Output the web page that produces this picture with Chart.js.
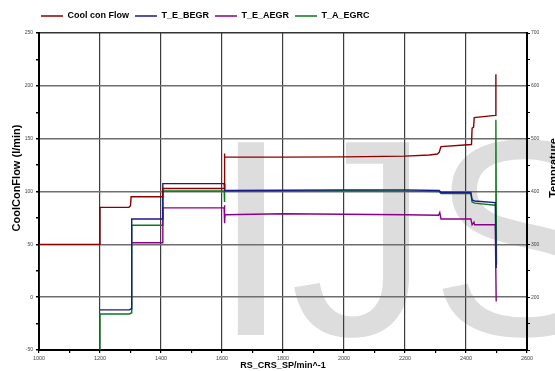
<!DOCTYPE html>
<html>
<head>
<meta charset="utf-8">
<script src="https://cdn.jsdelivr.net/npm/chart.js@4.4.0/dist/chart.umd.min.js"></script>
<style>
    html, body { margin: 0; padding: 0; background: #fff; overflow: hidden; }
    #wrap { position: relative; width: 555px; height: 371px; }
</style>
</head>
<body>
<div id="wrap"><canvas id="chart"></canvas></div>
<script>
// series labels
const seriesNames = ['Cool con Flow', 'T_E_BEGR', 'T_E_AEGR', 'T_A_EGRC'];
const seriesColors = ['#8b0000', '#1a1a8c', '#8b008b', '#0b7a1e'];

// Cool con Flow (l/min, left axis)
const flowRpm = [1000, 1000, 1200, 1200, 1295, 1300, 1302, 1404, 1406, 1607, 1608, 1609, 1800, 2000, 2200, 2280, 2306, 2312, 2318, 2418, 2420, 2425, 2427, 2496, 2498];
const flowVal = [0, 50, 50, 85, 85, 86.5, 95, 95, 102.8, 102.8, 136, 132.7, 132.5, 132.8, 133.5, 134.5, 135.5, 137, 142.5, 144.5, 160, 161, 170, 172, 211];

// T_E_BEGR (temperature, right axis)
const begrRpm = [1200, 1297, 1302, 1304, 1404, 1406, 1607, 1609, 1800, 2000, 2200, 2312, 2318, 2416, 2420, 2428, 2496, 2499];
const begrVal = [176, 176, 178, 348, 348, 415, 415, 402, 402.5, 403, 403, 402, 398, 398, 384, 382, 379, 255];

// T_E_AEGR
const aegrRpm = [1302, 1404, 1406, 1607, 1608, 1609, 1610, 1800, 2000, 2200, 2310, 2314, 2318, 2416, 2420, 2426, 2428, 2496, 2499];
const aegrVal = [303, 303, 369, 369, 374, 340, 356, 358, 357, 356, 355, 360, 348, 348, 337, 342, 337, 337, 192];

// T_A_EGRC
const egrcRpm = [1200, 1200, 1297, 1302, 1304, 1404, 1406, 1607, 1608, 1609, 1800, 2000, 2200, 2312, 2318, 2416, 2420, 2428, 2496, 2498, 2500];
const egrcVal = [60, 168, 168, 170, 336, 336, 401, 401, 380, 401, 401, 401.5, 401, 400, 396, 396, 380, 378, 374, 536, 262];

const rpmTicks = [1000, 1200, 1400, 1600, 1800, 2000, 2200, 2400, 2600];

const toPoints = (xs, ys) => xs.map((x, i) => ({ x: x, y: ys[i] }));

const tickFont = (size) => ({ family: '"Liberation Sans", Arial, sans-serif', size: size });
const boldFont = (size) => ({ family: '"Liberation Sans", Arial, sans-serif', size: size, weight: 'bold' });

// big grey watermark behind everything
const watermark = {
    id: 'watermark',
    beforeDraw(chart) {
        const ctx = chart.ctx;
        ctx.save();
        ctx.font = '280px "Liberation Sans", Arial, sans-serif';
        ctx.fillStyle = '#dddddd';
        ctx.textBaseline = 'alphabetic';
        ctx.fillText('IJS', 212, 335);
        ctx.restore();
    }
};

// vertical axis titles (both read bottom to top)
const axisTitles = {
    id: 'axisTitles',
    afterDraw(chart) {
        const ctx = chart.ctx;
        const area = chart.chartArea;
        ctx.save();
        ctx.font = 'bold 11px "Liberation Sans", Arial, sans-serif';
        ctx.fillStyle = '#000';
        ctx.textAlign = 'center';
        ctx.textBaseline = 'alphabetic';
        ctx.translate(20, 178);
        ctx.rotate(-Math.PI / 2);
        ctx.fillText('CoolConFlow (l/min)', 0, 0);
        ctx.restore();

        ctx.save();
        ctx.font = 'bold 11px "Liberation Sans", Arial, sans-serif';
        ctx.fillStyle = '#000';
        ctx.textAlign = 'center';
        ctx.textBaseline = 'alphabetic';
        ctx.translate(area.right + 30, 168);
        ctx.rotate(-Math.PI / 2);
        ctx.fillText('Temprature', 0, 0);
        ctx.restore();
    }
};

// legend sits over the plot's left edge, with a bit more room below it
const legendPlace = {
    id: 'legendPlace',
    beforeInit(chart) {
        const fit = chart.legend.fit;
        chart.legend.fit = function () {
            fit.bind(chart.legend)();
            this.height += 2.5;
        };
    },
    afterLayout(chart) {
        chart.legend.left += 35;
    }
};

const datasets = [
    { pts: toPoints(flowRpm, flowVal), axis: 'yFlow' },
    { pts: toPoints(begrRpm, begrVal), axis: 'yTemp' },
    { pts: toPoints(aegrRpm, aegrVal), axis: 'yTemp' },
    { pts: toPoints(egrcRpm, egrcVal), axis: 'yTemp' }
].map((d, i) => ({
    label: seriesNames[i],
    data: d.pts,
    yAxisID: d.axis,
    borderColor: seriesColors[i],
    backgroundColor: seriesColors[i],
    borderWidth: 1.4,
    pointRadius: 0,
    tension: 0,
    fill: false
}));

new Chart(document.getElementById('chart'), {
    type: 'line',
    data: { datasets: datasets },
    plugins: [watermark, axisTitles, legendPlace],
    options: {
        responsive: true,
        maintainAspectRatio: false,
        animation: false,
        layout: { padding: { left: 0, top: 5.5, right: 0, bottom: 0 } },
        plugins: {
            legend: {
                position: 'top',
                align: 'start',
                labels: {
                    boxWidth: 22,
                    boxHeight: 0,
                    padding: 6,
                    color: '#000',
                    font: boldFont(9)
                }
            },
            tooltip: { enabled: false }
        },
        scales: {
            x: {
                type: 'linear',
                min: 1000,
                max: 2600,
                afterFit: (s) => { s.height = 21; },
                ticks: {
                    stepSize: 100,
                    autoSkip: false,
                    maxRotation: 0,
                    padding: 2,
                    color: '#444',
                    font: tickFont(5.5),
                    callback: (v) => (rpmTicks.includes(v) ? String(v) : '')
                },
                grid: {
                    tickLength: 3,
                    tickColor: '#000',
                    lineWidth: 1.2,
                    color: (c) => (c.tick && c.tick.value % 200 === 0 && c.tick.value > 1000 && c.tick.value < 2600 ? '#3c3c3c' : 'transparent')
                },
                border: { color: '#000', width: 2 },
                title: {
                    display: true,
                    text: 'RS_CRS_SP/min^-1',
                    color: '#000',
                    font: boldFont(9),
                    padding: 0
                }
            },
            yFlow: {
                position: 'left',
                min: -50,
                max: 250,
                afterFit: (s) => { s.width = 39; },
                ticks: {
                    stepSize: 25,
                    autoSkip: false,
                    padding: 3,
                    color: '#444',
                    font: tickFont(5),
                    callback: (v) => (v % 50 === 0 ? String(v) : '')
                },
                grid: {
                    tickLength: 3,
                    tickColor: '#000',
                    lineWidth: 1.5,
                    color: (c) => {
                        if (!c.tick || c.tick.value % 50 !== 0 || c.tick.value === -50) return 'transparent';
                        return c.tick.value === 250 ? '#333' : '#6e6e6e';
                    }
                },
                border: { color: '#000', width: 2 }
            },
            yTemp: {
                position: 'right',
                min: 100,
                max: 700,
                afterFit: (s) => { s.width = 28; },
                ticks: {
                    stepSize: 50,
                    autoSkip: false,
                    padding: 1,
                    color: '#444',
                    font: tickFont(5),
                    callback: (v) => (v % 100 === 0 && v >= 200 ? String(v) : '')
                },
                grid: {
                    drawOnChartArea: false,
                    tickLength: 3,
                    tickColor: '#000'
                },
                border: { color: '#000', width: 2 }
            }
        }
    }
});
</script>
</body>
</html>
